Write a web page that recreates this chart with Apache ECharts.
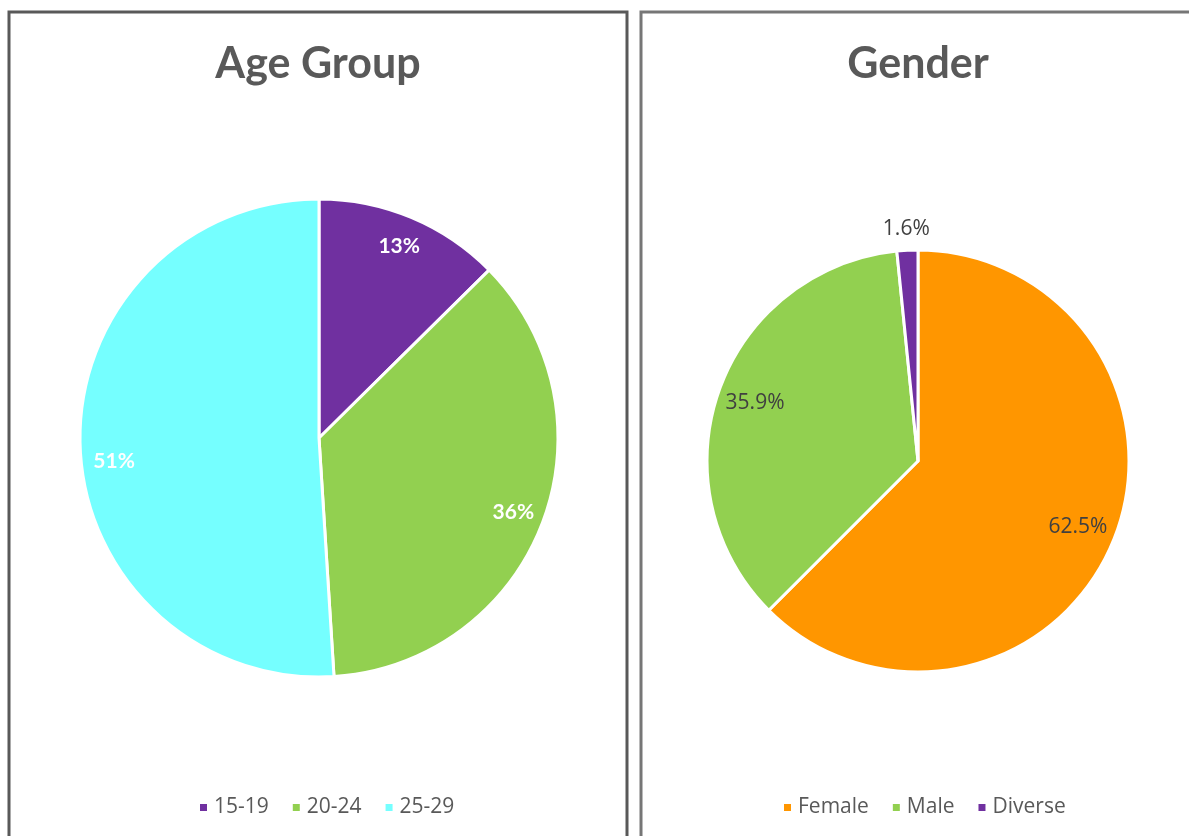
<!DOCTYPE html>
<html>
<head>
<meta charset="utf-8">
<script src="https://cdn.jsdelivr.net/npm/echarts@6/dist/echarts.min.js"></script>
<style>
  html, body { margin: 0; padding: 0; background: #fff; }
  #chart { width: 1189px; height: 836px; }
</style>
</head>
<body>
<div id="chart"></div>
<script>
// age group shares (%)
const ageNames = ['15-19', '20-24', '25-29'];
const ageValues = [12.6, 36.4, 51.0];
const ageColors = ['#7030A0', '#92D050', '#75FFFF'];

// gender shares (%)
const genderNames = ['Female', 'Male', 'Diverse'];
const genderValues = [62.5, 35.9, 1.6];
const genderColors = ['#FF9600', '#92D050', '#7030A0'];

const TITLE_FONT = 'Lato, "Open Sans", sans-serif';
const TEXT_FONT = '"Open Sans", "DejaVu Sans", sans-serif';

var chart = echarts.init(document.getElementById('chart'));

function pieData(names, values, colors) {
  return names.map(function (n, i) {
    return { name: n, value: values[i], itemStyle: { color: colors[i] } };
  });
}

// transparent ring that only carries the labels (label sits at mid radius)
function labelData(names, values, extra) {
  return names.map(function (n, i) {
    var d = { name: n, value: values[i] };
    if (extra[i]) d.label = extra[i];
    return d;
  });
}

var legendBase = {
  icon: 'rect', itemWidth: 9, itemHeight: 9, itemGap: 22, top: 792,
  textStyle: { fontFamily: TEXT_FONT, fontSize: 21, color: '#595959', padding: [0, 0, 0, 1] }
};

var option = {
  animation: false,
  graphic: [
    { type: 'rect', shape: { x: 9, y: 12, width: 618, height: 840 },
      style: { fill: 'none', stroke: '#595959', lineWidth: 3 } },
    { type: 'rect', shape: { x: 641, y: 12, width: 600, height: 840 },
      style: { fill: 'none', stroke: '#767676', lineWidth: 3 } }
  ],
  title: [
    { text: 'Age Group', left: 318, top: 43, textAlign: 'center', padding: 0,
      textStyle: { fontFamily: TITLE_FONT, fontSize: 43, fontWeight: 'bold', color: '#595959' } },
    { text: 'Gender', left: 918, top: 43, textAlign: 'center', padding: 0,
      textStyle: { fontFamily: TITLE_FONT, fontSize: 43, fontWeight: 'bold', color: '#595959' } }
  ],
  legend: [
    Object.assign({}, legendBase, { data: ageNames, left: 193 }),
    Object.assign({}, legendBase, { data: genderNames, left: 777 })
  ],
  series: [
    {
      type: 'pie', center: [319, 438], radius: [0, 239],
      startAngle: 90, clockwise: true, avoidLabelOverlap: false,
      itemStyle: { borderColor: '#fff', borderWidth: 3 },
      label: { show: false }, labelLine: { show: false },
      emphasis: { disabled: true },
      data: pieData(ageNames, ageValues, ageColors)
    },
    {
      type: 'pie', center: [918, 461], radius: [0, 211],
      startAngle: 90, clockwise: true, avoidLabelOverlap: false,
      itemStyle: { borderColor: '#fff', borderWidth: 3 },
      label: { show: false }, labelLine: { show: false },
      emphasis: { disabled: true },
      data: pieData(genderNames, genderValues, genderColors)
    },
    {
      type: 'pie', center: [319, 438], radius: [171, 239], silent: true,
      startAngle: 90, clockwise: true, avoidLabelOverlap: false,
      itemStyle: { color: 'transparent', borderWidth: 0 },
      labelLine: { show: false },
      label: {
        show: true, position: 'inside', color: '#fff', fontFamily: TITLE_FONT,
        fontSize: 21, fontWeight: 'bold',
        formatter: function (p) { return Math.round(p.percent) + '%'; }
      },
      data: labelData(ageNames, ageValues, [null, null, { offset: [3, 17] }])
    },
    {
      type: 'pie', center: [918, 461], radius: [129, 211], silent: true,
      startAngle: 90, clockwise: true, avoidLabelOverlap: false,
      itemStyle: { color: 'transparent', borderWidth: 0 },
      labelLine: { show: false },
      label: {
        show: true, position: 'inside', color: '#404040', fontFamily: TEXT_FONT,
        fontSize: 21,
        formatter: function (p) { return p.value.toFixed(1) + '%'; }
      },
      data: labelData(genderNames, genderValues, [null, null, { offset: [-3, -59] }])
    }
  ]
};

chart.setOption(option);
</script>
</body>
</html>
